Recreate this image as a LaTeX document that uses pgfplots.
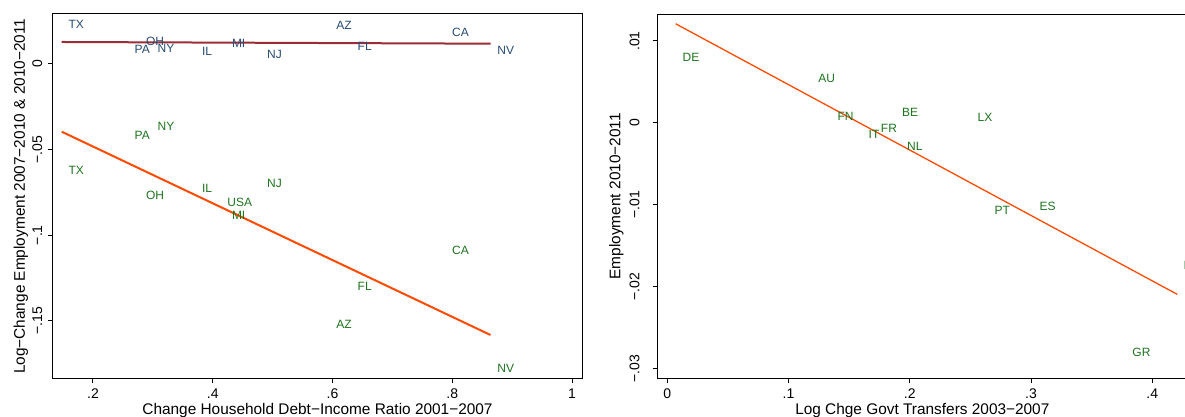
\documentclass[border=0pt]{standalone}
\usepackage{fontspec}
\setmainfont{Liberation Sans}
\usepackage{pgfplots}
\usepackage{pgfplotstable}
\pgfplotsset{compat=1.18}

\definecolor{labblue}{RGB}{40,75,115}
\definecolor{labgreen}{RGB}{30,115,30}
\definecolor{fitred}{RGB}{155,45,55}
\definecolor{fitorange}{RGB}{255,75,0}

% US states: 2010-2011 (top) and 2007-2010 (bottom)
\pgfplotstableread{
x y lab
0.148 0.0234 TX
0.2583 0.0086 PA
0.2773 0.0130 OH
0.2967 0.0092 NY
0.3709 0.0072 IL
0.4208 0.0119 MI
0.4794 0.0053 NJ
0.5952 0.0224 AZ
0.6307 0.0105 FL
0.7884 0.0183 CA
0.864 0.0078 NV
}\statesB

\pgfplotstableread{
x y lab
0.148 -0.0623 TX
0.2583 -0.0419 PA
0.2773 -0.0767 OH
0.2967 -0.0366 NY
0.3709 -0.0726 IL
0.4131 -0.0806 USA
0.4208 -0.0882 MI
0.4794 -0.0697 NJ
0.5952 -0.1519 AZ
0.6307 -0.1301 FL
0.7884 -0.1091 CA
0.864 -0.1777 NV
}\statesA

% countries
\pgfplotstableread{
x y lab
0.0071 0.0080 DE
0.1190 0.0054 AU
0.1349 0.0008 FN
0.1605 -0.0014 IT
0.1706 -0.0007 FR
0.1880 0.0013 BE
0.1922 -0.0029 NL
0.2504 0.0007 LX
0.2644 -0.0107 PT
0.3015 -0.0102 ES
0.3780 -0.0280 GR
0.4203 -0.0174 IR
}\countries

\newcommand{\labfont}{\fontsize{7.7}{9}\selectfont}

\pgfplotsset{
  stata/.style={
    scale only axis, anchor=south west,
    axis line style={line width=0.5pt},
    tick align=outside, tick pos=left,
    major tick length=2.5pt,
    every tick/.style={black, line width=0.5pt},
    scaled ticks=false,
    ticklabel style={font=\fontsize{7}{8}\selectfont},
    xticklabel style={anchor=base, inner sep=0pt, yshift=-7.75pt},
    every axis x label/.style={at={(rel axis cs:0.5,0)}, anchor=base, yshift=-18.25pt, font=\labfont},
    clip=false,
  },
  lab/.style={draw=none, nodes near coords, point meta=explicit symbolic,
    every node near coord/.append style={anchor=west, inner sep=0pt, xshift=3.2pt,
      font=\fontsize{6}{7}\selectfont, text=#1}},
}

\begin{document}
\begin{tikzpicture}
\useasboundingbox (0,0) rectangle (592.5pt,208.5pt);

\begin{axis}[stata,
  at={(26.5pt,19.25pt)}, width=264.5pt, height=182.25pt,
  xmin=0.1332, xmax=1.0167, ymin=-0.1837, ymax=0.0292,
  xtick={0.2,0.4,0.6,0.8,1}, xticklabels={.2,.4,.6,.8,1},
  ytick={-0.15,-0.1,-0.05,0}, yticklabels={−.15,−.1,−.05,0},
  yticklabel style={xshift=-3pt, rotate=90, anchor=base, inner sep=0pt},
  every axis y label/.style={at={(rel axis cs:0,0.5)}, xshift=-14pt, rotate=90, anchor=base, font=\labfont},
  xlabel={Change Household Debt−Income Ratio 2001−2007},
  ylabel={Log−Change Employment 2007−2010 \& 2010−2011},
]
\addplot[fitred, line width=1pt] coordinates {(0.1477,0.01285) (0.864,0.01186)};
\addplot[fitorange, line width=1pt] coordinates {(0.1477,-0.03954) (0.864,-0.1583)};
\addplot[lab=labblue] table[x=x, y=y, meta=lab] {\statesB};
\addplot[lab=labgreen] table[x=x, y=y, meta=lab] {\statesA};
\end{axis}

\begin{axis}[stata,
  at={(328.85pt,19.25pt)}, width=264.65pt, height=182.25pt,
  xmin=-0.0079, xmax=0.4286, ymin=-0.03116, ymax=0.01329,
  xtick={0,0.1,0.2,0.3,0.4}, xticklabels={0,.1,.2,.3,.4},
  ytick={-0.03,-0.02,-0.01,0,0.01}, yticklabels={−.03,−.02,−.01,0,.01},
  yticklabel style={xshift=-6.7pt, rotate=90, anchor=base, inner sep=0pt},
  every axis y label/.style={at={(rel axis cs:0,0.5)}, xshift=-18.7pt, rotate=90, anchor=base, font=\labfont},
  xlabel={Log Chge Govt Transfers 2003−2007},
  ylabel={Employment 2010−2011},
]
\addplot[fitorange, line width=0.65pt] coordinates {(0.0069,0.0121) (0.4206,-0.0209)};
\addplot[lab=labgreen] table[x=x, y=y, meta=lab] {\countries};
\end{axis}
\end{tikzpicture}
\end{document}
